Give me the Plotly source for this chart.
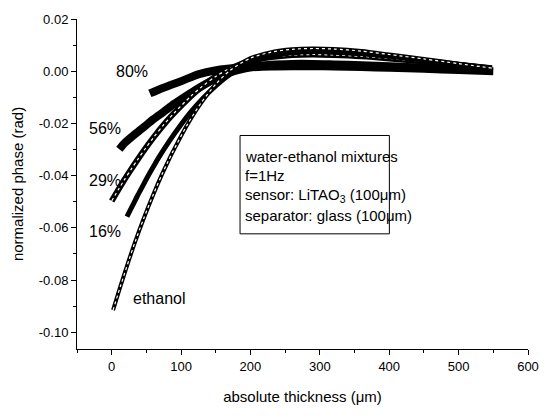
import plotly.graph_objects as go

# ---- data ----
eth_x = [2, 13, 25, 34, 46, 60, 72, 81, 88, 110, 130, 150, 170, 200, 230, 260, 290, 320, 360, 400, 450, 500, 548]
eth_y = [-0.0915, -0.0820, -0.0722, -0.0652, -0.0565, -0.0472, -0.0398, -0.0347, -0.0309, -0.0200, -0.0117,
         -0.0050, 0.0002, 0.0050, 0.0073, 0.0084, 0.0087, 0.0085, 0.0077, 0.0064, 0.0047, 0.0029, 0.0012]

p16_x = [22, 30, 37, 45, 51, 60, 67, 84, 100, 115, 131, 150, 170, 200, 230, 260, 290, 320, 360, 400, 450, 500, 548]
p16_y = [-0.0557, -0.0515, -0.0478, -0.0438, -0.0408, -0.0366, -0.0334, -0.0264, -0.0204, -0.0153, -0.0105,
         -0.0056, -0.0013, 0.0032, 0.0058, 0.0071, 0.0075, 0.0073, 0.0067, 0.0057, 0.0042, 0.0027, 0.0012]

p29_x = [0, 10, 18, 28, 37, 48, 60, 75, 90, 114, 130, 150, 170, 200, 230, 260, 290, 320, 360, 400, 450, 500, 548]
p29_y = [-0.0497, -0.0452, -0.0417, -0.0376, -0.0340, -0.0298, -0.0255, -0.0205, -0.0160, -0.0096, -0.0059,
         -0.0020, 0.0010, 0.0038, 0.0054, 0.0062, 0.0064, 0.0062, 0.0057, 0.0049, 0.0037, 0.0024, 0.0011]

p56_x = [11, 20, 35, 48, 60, 75, 90, 107, 125, 145, 170, 200, 230, 260, 290, 320, 360, 400, 450, 500, 548]
p56_y = [-0.0299, -0.0272, -0.0238, -0.0210, -0.0184, -0.0155, -0.0125, -0.0095, -0.0065, -0.0035, -0.0005,
         0.0015, 0.0025, 0.0028, 0.0028, 0.0026, 0.0023, 0.0019, 0.0014, 0.0009, 0.0003]

p80_x = [55, 70, 84, 100, 115, 126, 145, 170, 200, 230, 260, 290, 320, 360, 400, 450, 500, 550]
p80_y = [-0.0085, -0.0068, -0.0054, -0.0038, -0.0022, -0.0011, 0.0001, 0.0010, 0.0015, 0.0018, 0.0019,
         0.0019, 0.0018, 0.0016, 0.0013, 0.0009, 0.0005, 0.0000]

x_ticks = [0, 100, 200, 300, 400, 500, 600]
y_ticks = [-0.10, -0.08, -0.06, -0.04, -0.02, 0.00, 0.02]
y_tick_text = ["-0.10", "-0.08", "-0.06", "-0.04", "-0.02", "0.00", "0.02"]

labels = ["80%", "56%", "29%", "16%", "ethanol"]
label_x = [29, -10, -10, -10, 69]
label_y = [-0.0002, -0.0220, -0.0417, -0.0613, -0.0870]

box_lines = ["water-ethanol mixtures", "f=1Hz", "sensor: LiTAO<sub>3</sub> (100μm)", "separator: glass (100μm)"]

FONT = "Arial, Liberation Sans, sans-serif"

fig = go.Figure()

def band(x, y, w, name):
    fig.add_trace(go.Scatter(x=x, y=y, mode="lines", name=name,
                             line=dict(color="black", width=w, shape="spline", smoothing=0.8),
                             showlegend=False, hoverinfo="skip"))

def hollow(x, y, w, name):
    fig.add_trace(go.Scatter(x=x, y=y, mode="lines", name=name,
                             line=dict(color="white", width=w, shape="spline", smoothing=0.8, dash="dot"),
                             showlegend=False, hoverinfo="skip"))

band(p80_x, p80_y, 8, "80%")
band(p56_x, p56_y, 8, "56%")
band(p29_x, p29_y, 6, "29%")
hollow(p29_x, p29_y, 1.2, "29% inner")
band(p16_x, p16_y, 5, "16%")
band(eth_x, eth_y, 4, "ethanol")
hollow(eth_x, eth_y, 1.2, "ethanol inner")

for t, xx, yy in zip(labels, label_x, label_y):
    fig.add_annotation(x=xx, y=yy, text=t, showarrow=False, xref="x", yref="y",
                       font=dict(family=FONT, size=16, color="black"))

# info box
fig.add_shape(type="rect", xref="paper", yref="paper", x0=0.3615, x1=0.6926, y0=0.349, y1=0.647,
              line=dict(color="black", width=1), fillcolor="white", layer="above")
box_y = [0.584, 0.526, 0.466, 0.405]
for t, yy in zip(box_lines, box_y):
    fig.add_annotation(x=0.367, y=yy, text=t, showarrow=False, xref="paper", yref="paper",
                       xanchor="left", yanchor="middle",
                       font=dict(family=FONT, size=15, color="black"))

axis_common = dict(showline=True, linecolor="black", linewidth=1, ticks="outside", ticklen=5,
                   tickcolor="black", showgrid=False, zeroline=False, mirror=False,
                   tickfont=dict(family=FONT, size=13, color="black"))

fig.update_layout(
    width=551, height=416,
    margin=dict(l=77, r=12, t=14, b=67),
    plot_bgcolor="white", paper_bgcolor="white",
    xaxis=dict(range=[-50, 600], tickvals=x_ticks,
               minor=dict(ticks="outside", ticklen=3, dtick=50, tick0=-50, tickcolor="black"),
               title=dict(text="absolute thickness (μm)", font=dict(family=FONT, size=15, color="black"),
                          standoff=18),
               **axis_common),
    yaxis=dict(range=[-0.1064, 0.02], tickvals=y_ticks, ticktext=y_tick_text,
               minor=dict(ticks="outside", ticklen=3, dtick=0.01, tick0=0, tickcolor="black"),
               title=dict(text="normalized phase (rad)", font=dict(family=FONT, size=15, color="black"),
                          standoff=11),
               **axis_common),
)

fig.write_html("out.html")
